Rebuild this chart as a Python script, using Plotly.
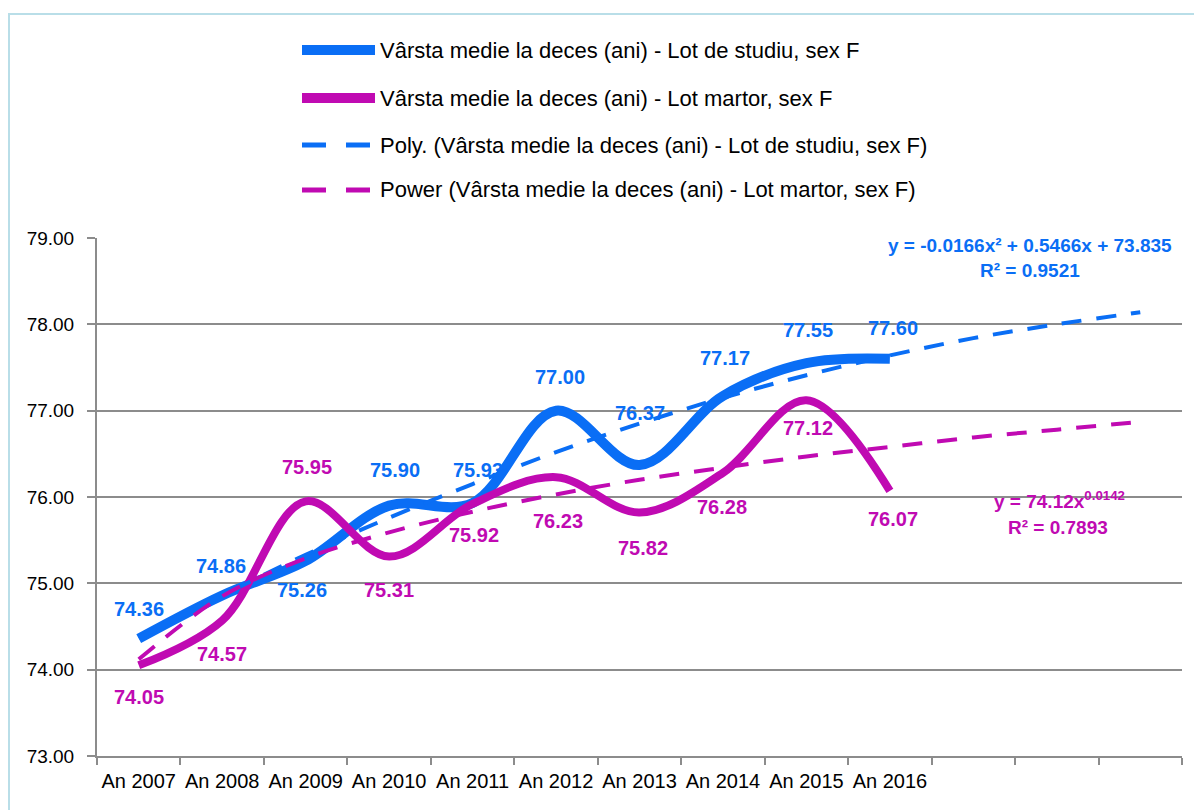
import plotly.graph_objects as go

years = ["An 2007", "An 2008", "An 2009", "An 2010", "An 2011",
         "An 2012", "An 2013", "An 2014", "An 2015", "An 2016"]
studiu = [74.36, 74.86, 75.26, 75.90, 75.93, 77.00, 76.37, 77.17, 77.55, 77.60]
martor = [74.05, 74.57, 75.95, 75.31, 75.92, 76.23, 75.82, 76.28, 77.12, 76.07]
# trend lines (periods 1..13, incl. 3 forecast periods), as shown by the equations
poly_trend = [74.37, 74.86, 75.33, 75.76, 76.15, 76.52, 76.85, 77.15, 77.41, 77.64, 77.84, 78.00, 78.14]
power_trend = [74.12, 74.85, 75.29, 75.59, 75.83, 76.03, 76.20, 76.34, 76.47, 76.58, 76.69, 76.78, 76.87]

names = ["Vârsta medie la deces (ani) - Lot de studiu, sex F",
         "Vârsta medie la deces (ani) - Lot martor, sex F",
         "Poly. (Vârsta medie la deces (ani) - Lot de studiu, sex F)",
         "Power (Vârsta medie la deces (ani) - Lot martor, sex F)"]
eq_poly = ["y = -0.0166x² + 0.5466x + 73.835", "R² = 0.9521"]
eq_power = ["y = 74.12x<sup>0.0142</sup>", "R² = 0.7893"]

BLUE = "#0A6EF5"
MAG = "#C00AB2"
GRID = "#8C8C8C"
OFF = 8  # page body margin
W, H = 1202 - OFF, 810 - OFF
L, R, T, B = 97 - OFF, 20, 238 - OFF, 54
PW, PH = W - L - R, H - T - B


def px(xp):
    # reference screen pixel -> paper x
    return (xp - OFF - L) / PW


def py(yp):
    # reference screen pixel -> paper y
    return (H - B - (yp - OFF)) / PH


FONT = "Liberation Sans, Arial, sans-serif"

xs = list(range(1, len(years) + 1))
xt = list(range(1, len(poly_trend) + 1))

fig = go.Figure()
fig.add_trace(go.Scatter(x=xs, y=studiu, mode="lines", line=dict(color=BLUE, width=10, shape="spline", smoothing=1.0), showlegend=False))
fig.add_trace(go.Scatter(x=xs, y=martor, mode="lines", line=dict(color=MAG, width=8, shape="spline", smoothing=1.0), showlegend=False))
fig.add_trace(go.Scatter(x=xt, y=poly_trend, mode="lines", line=dict(color=BLUE, width=4, dash="20px,15px", shape="spline"), showlegend=False))
fig.add_trace(go.Scatter(x=xt, y=power_trend, mode="lines", line=dict(color=MAG, width=4, dash="20px,15px", shape="spline"), showlegend=False))

ann = []
blue_off = [(0, 30), (-1, 29), (-4, -29), (6, 36), (5, 33), (4, 34), (0, 52), (2, 38), (2, 33), (3, 31)]
mag_off = [(0, -32), (0, -34), (1, 34), (0, -33), (1, -31), (2, -44), (3, -35), (-1, -34), (2, -28), (3, -28)]
for i, v in enumerate(studiu):
    ann.append(dict(x=xs[i], y=v, xref="x", yref="y", text=f"{v:.2f}", showarrow=False,
                    xanchor="center", yanchor="middle",
                    xshift=blue_off[i][0], yshift=blue_off[i][1],
                    font=dict(family=FONT, size=20, color=BLUE, weight="bold")))
for i, v in enumerate(martor):
    ann.append(dict(x=xs[i], y=v, xref="x", yref="y", text=f"{v:.2f}", showarrow=False,
                    xanchor="center", yanchor="middle",
                    xshift=mag_off[i][0], yshift=mag_off[i][1],
                    font=dict(family=FONT, size=20, color=MAG, weight="bold")))

# trendline equations
eq_items = [(eq_poly[0], 1030, 245, BLUE), (eq_poly[1], 1030, 270, BLUE),
            (eq_power[0], 1059, 500, MAG), (eq_power[1], 1058, 527, MAG)]
for txt, xp, yp, col in eq_items:
    ann.append(dict(x=px(xp), y=py(yp), xref="paper", yref="paper", text=txt, showarrow=False,
                    xanchor="center", yanchor="middle",
                    font=dict(family=FONT, size=19, color=col, weight="bold")))

# manual legend
shapes = []
leg_y = [50, 98, 145, 190]
leg_col = [BLUE, MAG, BLUE, MAG]
for k in range(4):
    if k < 2:
        shapes.append(dict(type="line", xref="paper", yref="paper", x0=px(302), x1=px(375),
                           y0=py(leg_y[k]), y1=py(leg_y[k]), line=dict(color=leg_col[k], width=10)))
    else:
        shapes.append(dict(type="line", xref="paper", yref="paper", x0=px(302), x1=px(370),
                           y0=py(leg_y[k]), y1=py(leg_y[k]), line=dict(color=leg_col[k], width=5, dash="24px,20px")))
    ann.append(dict(x=px(378), y=py(leg_y[k]), xref="paper", yref="paper", text=names[k], showarrow=False,
                    xanchor="left", yanchor="middle", font=dict(family=FONT, size=22, color="black")))

# outer chart border (left/top visible)
shapes.append(dict(type="rect", xref="paper", yref="paper", x0=px(9), x1=px(1215), y0=py(825), y1=py(14),
                   line=dict(color="#B9DEE8", width=2), layer="below"))

fig.update_layout(
    width=W, height=H, margin=dict(l=L, r=R, t=T, b=B),
    paper_bgcolor="white", plot_bgcolor="white",
    annotations=ann, shapes=shapes, showlegend=False,
    xaxis=dict(range=[0.5, len(poly_trend) + 0.5], tickmode="array", tickvals=xs, ticktext=years,
               ticks="", showgrid=False, zeroline=False, showline=True, linecolor=GRID, linewidth=2,
               tickfont=dict(family=FONT, size=20, color="black"), ticklabelstandoff=6,
               minor=dict(tick0=0.5, dtick=1, ticks="outside", ticklen=7, tickcolor=GRID, tickwidth=2, showgrid=False)),
    yaxis=dict(range=[73, 79], dtick=1, tickformat=".2f", showgrid=True, gridcolor=GRID, gridwidth=2,
               zeroline=False, showline=True, linecolor=GRID, linewidth=2, ticks="outside", ticklen=8,
               tickcolor=GRID, tickwidth=2, ticklabelstandoff=9,
               tickfont=dict(family=FONT, size=19, color="black")),
)

fig.write_html("out.html")
